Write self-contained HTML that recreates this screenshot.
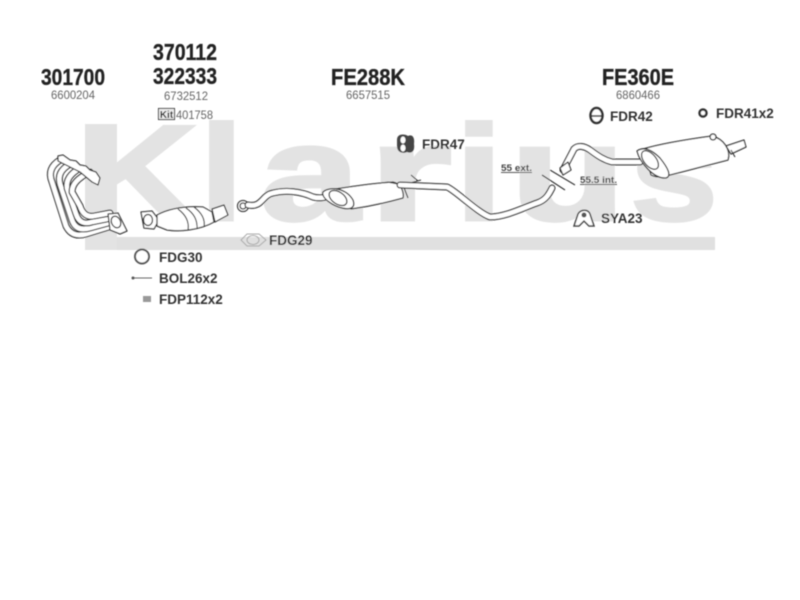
<!DOCTYPE html>
<html><head><meta charset="utf-8"><style>
html,body{margin:0;padding:0;background:#fff}
svg{display:block}
text{font-family:"Liberation Sans",Arial,sans-serif}
.w{font-weight:bold;font-size:136px;fill:#e3e3e3;stroke:#e3e3e3;stroke-width:3}
.b{font-weight:bold;fill:#222;stroke:#222;stroke-width:.3}
.n{fill:#666;font-size:12px}
.l{font-weight:bold;fill:#333;font-size:13.5px}
.s{font-weight:bold;fill:#444;font-size:9px;text-decoration:underline}
.p{fill:#fff;stroke:#333;stroke-width:1.25;stroke-linejoin:round}
.t{fill:none;stroke:#333;stroke-width:7;stroke-linecap:round;stroke-linejoin:round}
.i{fill:none;stroke:#fff;stroke-width:4.6;stroke-linecap:round;stroke-linejoin:round}
.d{fill:none;stroke:#333;stroke-width:1.1}
</style></head><body>
<svg width="800" height="600" viewBox="0 0 800 600" xmlns="http://www.w3.org/2000/svg">
<defs><filter id="f" x="0" y="0" width="100%" height="100%"><feGaussianBlur stdDeviation="0.45"/></filter></defs>
<rect width="800" height="600" fill="#fff"/>
<g filter="url(#f)">
<!-- watermark -->
<text class="w" x="76" y="220" textLength="122" lengthAdjust="spacingAndGlyphs">K</text>
<text class="w" x="200" y="220" textLength="43" lengthAdjust="spacingAndGlyphs">l</text>
<text class="w" x="260" y="220" textLength="100" lengthAdjust="spacingAndGlyphs">a</text>
<text class="w" x="368" y="220" textLength="84" lengthAdjust="spacingAndGlyphs">r</text>
<text class="w" x="455" y="220" textLength="48" lengthAdjust="spacingAndGlyphs">i</text>
<text class="w" x="510" y="220" textLength="116" lengthAdjust="spacingAndGlyphs">u</text>
<text class="w" x="630" y="220" textLength="88" lengthAdjust="spacingAndGlyphs">s</text>
<rect x="85" y="237" width="630" height="13" fill="#e0e0e0"/>
<rect x="85" y="124" width="32" height="126" fill="#e3e3e3"/>

<!-- heading labels -->
<text class="b" x="41" y="85" font-size="23" textLength="64" lengthAdjust="spacingAndGlyphs">301700</text>
<text class="n" x="51" y="99" textLength="44" lengthAdjust="spacingAndGlyphs">6600204</text>
<text class="b" x="153" y="60" font-size="23" textLength="64" lengthAdjust="spacingAndGlyphs">370112</text>
<text class="b" x="153" y="84" font-size="23" textLength="64" lengthAdjust="spacingAndGlyphs">322333</text>
<text class="n" x="164" y="100" textLength="44" lengthAdjust="spacingAndGlyphs">6732512</text>
<rect x="158.500" y="108.500" width="16" height="11" fill="#eee" stroke="#333"/>
<text x="166.500" y="118" font-weight="bold" font-size="10" fill="#222" text-anchor="middle">Kit</text>
<text class="n" x="176" y="119" textLength="37" lengthAdjust="spacingAndGlyphs">401758</text>
<text class="b" x="331" y="85" font-size="23" textLength="74" lengthAdjust="spacingAndGlyphs">FE288K</text>
<text class="n" x="346" y="99" textLength="44" lengthAdjust="spacingAndGlyphs">6657515</text>
<text class="b" x="602" y="85" font-size="23" textLength="72" lengthAdjust="spacingAndGlyphs">FE360E</text>
<text class="n" x="616" y="99" textLength="44" lengthAdjust="spacingAndGlyphs">6860466</text>

<!-- manifold -->
<path class="t" d="M60 160C52 165 48 172 52 182L66 226Q72 238 86 234L112 226"/>
<path class="i" d="M60 160C52 165 48 172 52 182L66 226Q72 238 86 234L112 226"/>
<path class="t" d="M70 164C60 170 58 176 60 184L72 220Q76 232 90 228L112 222"/>
<path class="i" d="M70 164C60 170 58 176 60 184L72 220Q76 232 90 228L112 222"/>
<path class="t" d="M80 168C70 174 66 180 67 188L76 214Q80 226 92 222L112 218"/>
<path class="i" d="M80 168C70 174 66 180 67 188L76 214Q80 226 92 222L112 218"/>
<path class="t" d="M90 172C78 178 72 184 72 192L80 206Q84 218 94 216L110 213"/>
<path class="i" d="M90 172C78 178 72 184 72 192L80 206Q84 218 94 216L110 213"/>
<path class="p" d="M58 156L63 155L70 160L76 161L80 165L86 166L90 170L96 172L100 178L98 185L92 182L80 172L58 161Z"/>
<path class="p" d="M108 214L118 213L127 231L120 234L110 230Z"/>
<ellipse cx="116" cy="222" rx="4.500" ry="6" transform="rotate(-25 116 222)" class="p"/>
<!-- catalytic converter -->
<path class="p" d="M141 212L152 211L159 220L154 229L144 228Z"/>
<ellipse cx="148" cy="220" rx="4.500" ry="5.500" class="p"/>
<path class="p" d="M157 215C170 208 185 206 203 207L212 212L214 222C200 230 180 232 167 230L157 226Z"/>
<path class="d" d="M178 209Q190 218 188 230M186 208Q198 216 197 229M194 207Q206 216 204 227"/>
<path class="p" d="M212 209L224 205L228 215L215 222Z"/>
<ellipse cx="243" cy="206" rx="5.500" ry="5.500" class="p"/>
<ellipse cx="243" cy="206" rx="3" ry="3" class="p"/>
<!-- front pipe + muffler -->
<path class="t" d="M248 205C262 208 262 195 273 193C285 190 300 191 313 197C320 199 325 197 332 196"/>
<path class="i" d="M248 205C262 208 262 195 273 193C285 190 300 191 313 197C320 199 325 197 332 196"/>
<path class="p" d="M335 189C355 186 375 183 393 182C402 184 404 193 403 198C385 203 365 207 351 209Z"/>
<path class="p" d="M323 192C330 186 346 188 353 200C356 208 350 210 342 208C333 206 321 198 323 192Z"/>
<ellipse cx="338" cy="198" rx="6" ry="10" transform="rotate(-55 338 198)" class="p"/>
<path class="d" d="M387 182L403 185L408 198M410 183L421 180M411 175L418 181M416 188L433 189"/>
<!-- mid pipe -->
<path class="t" d="M400 185L447 187C455 190 478 213 490 217C506 217 525 207 537 203C546 200 549 194 552 188"/>
<path class="i" d="M400 185L447 187C455 190 478 213 490 217C506 217 525 207 537 203C546 200 549 194 552 188"/>
<!-- rear pipe -->
<path class="t" d="M563 170L574 149C578 145 584 146 590 150C598 156 604 160 612 162L640 162"/>
<path class="i" d="M563 170L574 149C578 145 584 146 590 150C598 156 604 160 612 162L640 162"/>
<path class="p" d="M560 168L568 162L571 170L563 175Z"/>
<path class="p" d="M643 149C660 144 690 139 712 136C724 139 731 150 728 160L670 175C662 177 657 178 651 175Z"/>
<path class="p" d="M637 151C644 146 652 150 660 158C668 168 672 176 666 178C654 179 640 163 637 151Z"/>
<ellipse cx="650" cy="160" rx="6" ry="11" transform="rotate(-40 650 160)" class="p"/>
<circle cx="713" cy="137" r="3" class="p"/>
<path class="p" d="M726 146L744 140L746 147L731 154Z"/>
<path class="d" d="M731 150L735 157"/>
<!-- cut marks -->
<path class="d" d="M550 170L575 185M542 175L565 190"/>
<text class="s" x="501" y="171" textLength="31" lengthAdjust="spacingAndGlyphs">55 ext.</text>
<text class="s" x="580" y="183" textLength="37" lengthAdjust="spacingAndGlyphs">55.5 int.</text>

<!-- small parts -->
<circle cx="142" cy="256.500" r="7" fill="#fff" stroke="#555" stroke-width="2"/>
<text class="l" x="159" y="262">FDG30</text>
<path d="M132 278H152" stroke="#666" fill="none"/><circle cx="133" cy="278" r="1.500" fill="#555"/>
<text class="l" x="159" y="283">BOL26x2</text>
<rect x="143" y="296" width="8" height="6" fill="#999"/>
<text class="l" x="159" y="304">FDP112x2</text>
<path d="M241 240L247 234H259L266 240L259 246H247Z" stroke="#aaa" fill="none"/>
<ellipse cx="253" cy="240" rx="6" ry="4.500" fill="none" stroke="#aaa"/>
<text class="l" x="269" y="245">FDG29</text>
<path d="M397 140C397 133 405 134 408 136C412 134 415 137 414 144C415 151 412 154 407 152C402 154 397 152 397 146Z" fill="#444"/>
<ellipse cx="403" cy="140" rx="2.500" ry="3.500" fill="#fff"/><ellipse cx="403" cy="148" rx="2.500" ry="3.500" fill="#fff"/>
<text class="l" x="422" y="149">FDR47</text>
<ellipse cx="596.500" cy="115.500" rx="6" ry="7.500" fill="#fff" stroke="#333" stroke-width="2.500"/>
<path d="M591 116H602" stroke="#333" stroke-width="1.500"/>
<text class="l" x="610" y="121">FDR42</text>
<circle cx="703" cy="113" r="3.500" fill="#fff" stroke="#333" stroke-width="2.500"/>
<text class="l" x="716" y="118">FDR41x2</text>
<path d="M574 226L578 214C581 209 588 209 590 214L594 226L589 226L584 221L579 226Z" fill="#fff" stroke="#444" stroke-width="1.500"/>
<circle cx="584" cy="215" r="2.500" fill="#555"/>
<text class="l" x="601" y="223">SYA23</text>
</g>
</svg>
</body></html>
